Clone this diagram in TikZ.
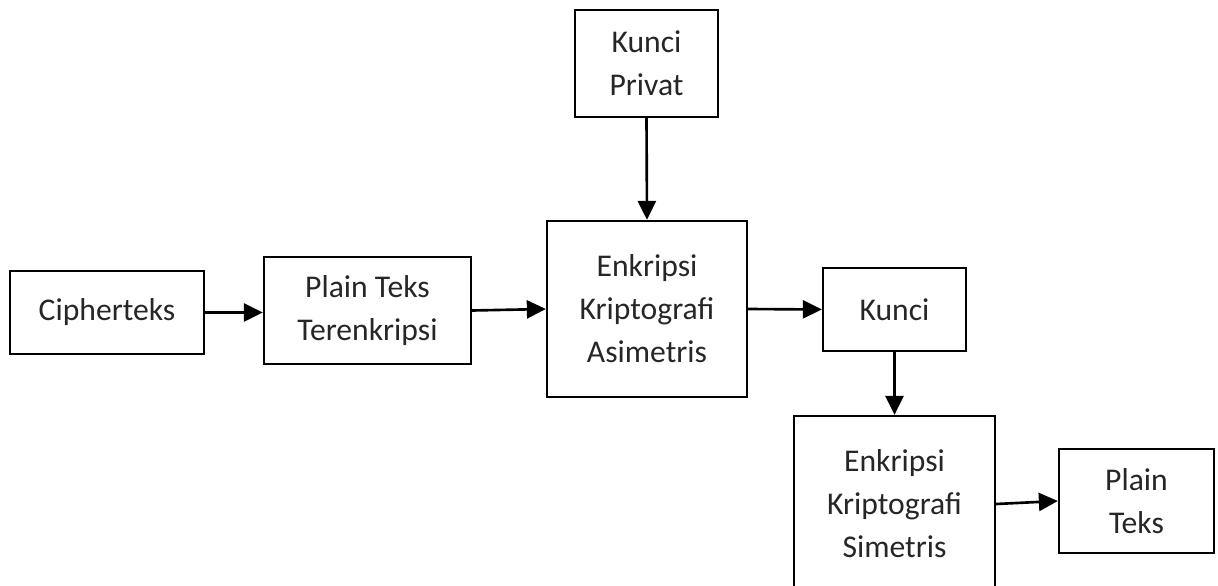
\documentclass[tikz,border=0pt]{standalone}
\usepackage{fontspec}
\setmainfont{Carlito}
\usepackage{tikz}
\usetikzlibrary{positioning}
\usetikzlibrary{arrows.meta}

\begin{document}
\begin{tikzpicture}[
boxnode/.style={rectangle, draw, line width=1.3pt, align=center, inner sep=0pt,
  font=\fontsize{18}{24.5}\selectfont, text=black!85},
arrowline/.style={-{Triangle[length=3.8mm, width=3.6mm]}, line width=1.5pt},
]
\useasboundingbox (0,0) rectangle (24.36,-11.72);

%Nodes
\node[boxnode, minimum width=3.88cm, minimum height=1.66cm] (cipher)  at (2.14,-6.25)  {Cipherteks};
\node[boxnode, minimum width=4.14cm, minimum height=2.14cm] (plainenc) at (7.35,-6.21) {Plain Teks\\Terenkripsi};
\node[boxnode, minimum width=2.86cm, minimum height=2.14cm] (privat)  at (12.93,-1.27) {Kunci\\Privat};
\node[boxnode, minimum width=4.00cm, minimum height=3.52cm] (asim)    at (12.94,-6.18) {Enkripsi\\Kriptografi\\Asimetris};
\node[boxnode, minimum width=2.86cm, minimum height=1.66cm] (kunci)   at (17.89,-6.19) {Kunci};
\node[boxnode, minimum width=4.02cm, minimum height=3.52cm] (sim)     at (17.89,-10.08) {Enkripsi\\Kriptografi\\Simetris};
\node[boxnode, minimum width=3.10cm, minimum height=2.08cm] (plain)   at (22.73,-10.02) {Plain\\Teks};

%Lines
\draw[arrowline] (cipher.east) -- (cipher.east -| plainenc.west);
\draw[arrowline] (plainenc.east) -- (asim.west);
\draw[arrowline] (privat.south) -- (asim.north);
\draw[arrowline] (asim.east) -- (kunci.west);
\draw[arrowline] (kunci.south) -- (sim.north);
\draw[arrowline] (sim.east) -- (plain.west);
\end{tikzpicture}
\end{document}
